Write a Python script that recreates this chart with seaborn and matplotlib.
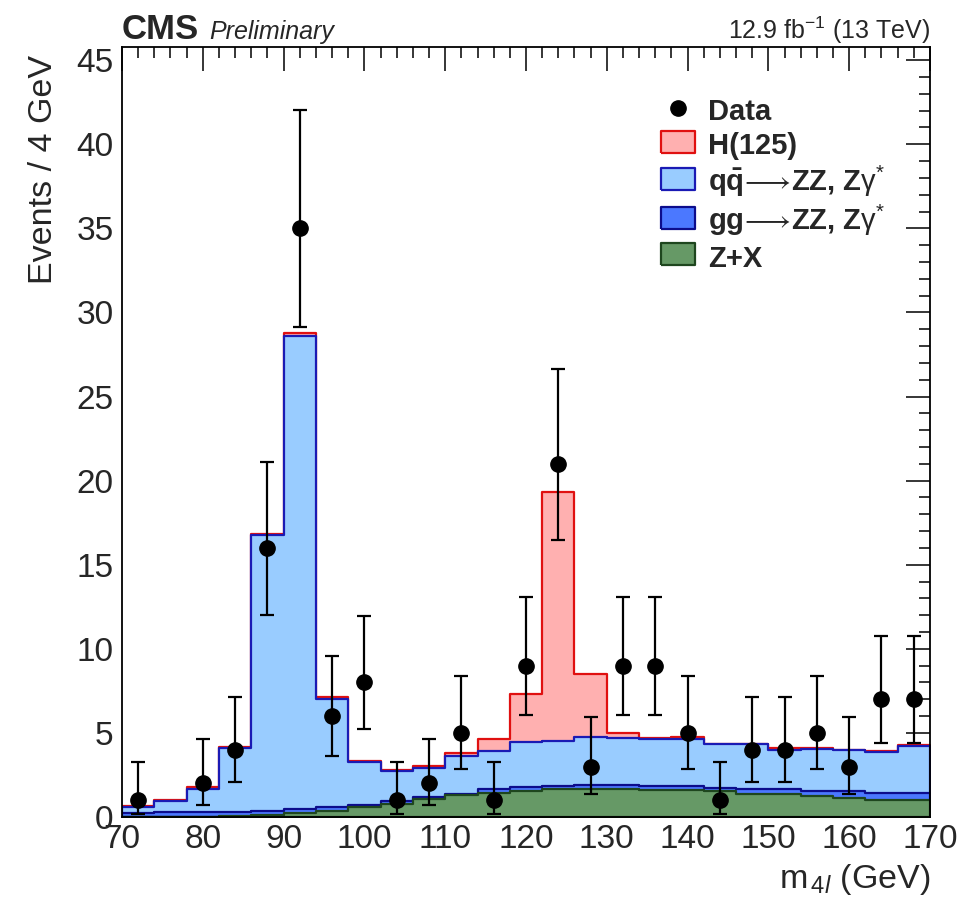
import numpy as np
import pandas as pd
import matplotlib
matplotlib.use('Agg')
import matplotlib.pyplot as plt
from matplotlib.ticker import MultipleLocator
from matplotlib.lines import Line2D
from matplotlib.path import Path
import seaborn as sns

sns.set_style('white')
plt.rcParams['font.family'] = ['Liberation Sans', 'DejaVu Sans']
plt.rcParams['mathtext.fontset'] = 'custom'
plt.rcParams['mathtext.rm'] = 'Liberation Sans'
plt.rcParams['mathtext.it'] = 'Liberation Sans:italic'
plt.rcParams['mathtext.bf'] = 'Liberation Sans:bold'

# ---- data ----
bin_lo, bin_hi, bin_w = 70, 170, 4
edges = np.arange(bin_lo, bin_hi + bin_w, bin_w)
centers = edges[:-1] + bin_w / 2

# per-process yields per 4 GeV bin
zx = [0.00, 0.00, 0.02, 0.05, 0.13, 0.26, 0.37, 0.57, 0.77, 1.05, 1.29, 1.41, 1.54,
      1.64, 1.68, 1.64, 1.61, 1.61, 1.52, 1.39, 1.37, 1.27, 1.13, 1.01, 1.01]
ggzz = [0.22, 0.30, 0.28, 0.25, 0.25, 0.20, 0.20, 0.12, 0.16, 0.16, 0.09, 0.24, 0.22,
        0.22, 0.22, 0.24, 0.23, 0.23, 0.22, 0.26, 0.28, 0.28, 0.42, 0.44, 0.44]
qqzz = [0.39, 0.64, 1.34, 3.80, 16.37, 28.14, 6.43, 2.56, 1.79, 1.73, 2.25, 2.27, 2.68,
        2.68, 2.88, 2.80, 2.80, 2.82, 2.60, 2.69, 2.35, 2.51, 2.43, 2.43, 2.79]
h125 = [0.02, 0.07, 0.14, 0.05, 0.05, 0.15, 0.13, 0.10, 0.09, 0.09, 0.16, 0.72, 2.87,
        14.76, 3.70, 0.29, 0.04, 0.12, 0.02, 0.02, 0.08, 0.02, 0.02, 0.02, 0.02]

# observed events and asymmetric Poisson errors
data_n = [1, 0, 2, 4, 16, 35, 6, 8, 1, 2, 5, 1, 9, 21, 3, 9, 9, 5, 1, 4, 4, 5, 3, 7, 7]
err_lo = [0.83, 0, 1.29, 1.91, 3.96, 5.89, 2.38, 2.77, 0.83, 1.29, 2.16, 0.83, 2.94,
          4.55, 1.63, 2.94, 2.94, 2.16, 0.83, 1.91, 1.91, 2.16, 1.63, 2.58, 2.58]
err_hi = [2.30, 0, 2.64, 3.16, 5.10, 7.01, 3.58, 3.95, 2.30, 2.64, 3.38, 2.30, 4.11,
          5.66, 2.92, 4.11, 4.11, 3.38, 2.30, 3.16, 3.16, 3.38, 2.92, 3.77, 3.77]

procs = ['Z+X', 'gg', 'qq', 'H']
yields = {'Z+X': zx, 'gg': ggzz, 'qq': qqzz, 'H': h125}
fills = {'H': '#ffb0b0', 'qq': '#99ccff', 'gg': '#4b78ff', 'Z+X': '#669966'}
lines = {'H': '#e01010', 'qq': '#1a1ab4', 'gg': '#0c0c8c', 'Z+X': '#1e461e'}
labels = {'H': 'H(125)',
          'qq': r'$\mathbf{q\bar{q}}\!\longrightarrow\!$ZZ, Z$\mathrm{\gamma}^{*}$',
          'gg': r'gg$\!\longrightarrow\!$ZZ, Z$\mathrm{\gamma}^{*}$',
          'Z+X': 'Z+X'}

# stack levels, bottom to top
df = pd.DataFrame(yields)
stack = df[procs].cumsum(axis=1)
stack['m4l'] = centers

fig = plt.figure(figsize=(9.66, 9.05), dpi=100)
ax = fig.add_axes([0.1263, 0.0972, 0.8364, 0.8508])

# draw the stack top first so lower levels cover it
for p in procs[::-1]:
    sns.histplot(data=stack, x='m4l', weights=p, binwidth=bin_w,
                 binrange=(bin_lo, bin_hi), element='step',
                 fill=True, facecolor=fills[p], edgecolor=lines[p], alpha=1,
                 linewidth=1.6, ax=ax)

# data points
n = np.array(data_n, dtype=float)
m = n > 0
ax.errorbar(centers[m], n[m], yerr=[np.array(err_lo)[m], np.array(err_hi)[m]],
            fmt='o', color='black', markersize=11, elinewidth=1.6, capsize=5,
            capthick=1.6, zorder=5)

ax.set_xlim(bin_lo, bin_hi)
ax.set_ylim(0, 45.78)
ax.xaxis.set_major_locator(MultipleLocator(10))
ax.xaxis.set_minor_locator(MultipleLocator(2))
ax.yaxis.set_major_locator(MultipleLocator(5))
ax.yaxis.set_minor_locator(MultipleLocator(1))
ax.tick_params(which='both', direction='in', top=True, right=True, labelsize=24,
               width=1.1, color='black')
ax.tick_params(which='major', length=17)
ax.tick_params(which='minor', length=8)
ax.tick_params(axis='x', pad=5)
ax.tick_params(axis='y', pad=6)
for s in ax.spines.values():
    s.set_linewidth(1.3)
    s.set_color('black')

ax.set_ylabel('Events / 4 GeV', fontsize=24.5, loc='top')
ax.yaxis.set_label_coords(-0.078, 0.99)
ax.set_xlabel(r'm$_{\,4\mathit{l}}$ (GeV)', fontsize=24.5, loc='right')
ax.xaxis.set_label_coords(1.0, -0.058)
ax.xaxis.label.set_va('top')

# legend: filled rectangles drawn as custom markers so rows keep one pitch
box = Path([(-1.6, -1), (1.6, -1), (1.6, 1), (-1.6, 1), (-1.6, -1)])
handles = [Line2D([], [], marker='o', color='black', linestyle='none', markersize=11)]
for p in ['H', 'qq', 'gg', 'Z+X']:
    handles.append(Line2D([], [], marker=box, linestyle='none', markersize=25,
                          markerfacecolor=fills[p], markeredgecolor=lines[p],
                          markeredgewidth=1.6))
leg = ax.legend(handles, ['Data'] + [labels[p] for p in ['H', 'qq', 'gg', 'Z+X']],
                loc='upper left', bbox_to_anchor=(0.666, 0.937), frameon=False,
                prop={'weight': 'bold', 'size': 21}, handlelength=1.2,
                handleheight=1.17, handletextpad=0.45, labelspacing=0.13,
                borderpad=0, borderaxespad=0, numpoints=1)

fig.text(0.1263, 0.957, 'CMS', fontsize=25, fontweight='bold', ha='left', va='baseline')
fig.text(0.2165, 0.957, 'Preliminary', fontsize=18, style='italic', ha='left', va='baseline')
fig.text(0.9627, 0.957, r'12.9 fb$^{-1}$ (13 TeV)', fontsize=18, ha='right', va='baseline')

fig.savefig('out.png', dpi=100)
